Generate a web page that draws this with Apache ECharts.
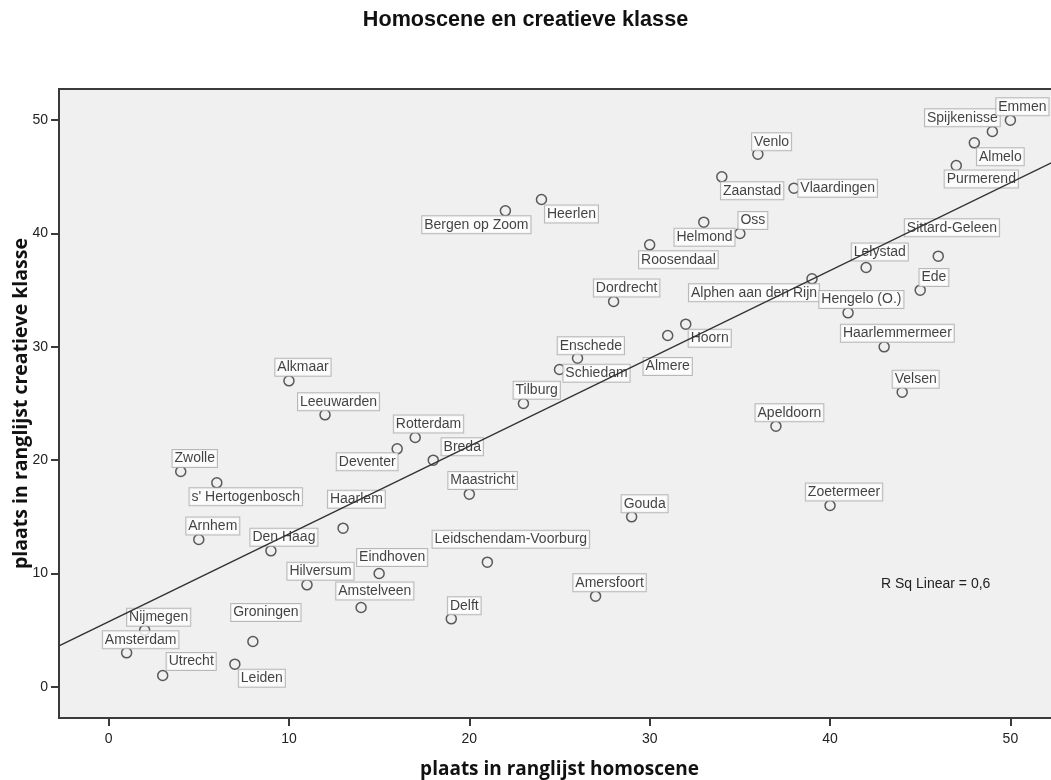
<!DOCTYPE html>
<html>
<head>
<meta charset="utf-8">
<script src="https://cdn.jsdelivr.net/npm/echarts@6/dist/echarts.min.js"></script>
<style>
  html, body { margin: 0; padding: 0; background: #ffffff; }
  #chart { width: 1051px; height: 780px; }
</style>
</head>
<body>
<div id="chart"></div>
<script>
// Gemeenten met hun plaats in beide ranglijsten
const cities = [
  "Amsterdam", "Nijmegen", "Utrecht", "Zwolle", "Arnhem", "s' Hertogenbosch", "Leiden", "Groningen", "Den Haag", "Alkmaar",
  "Hilversum", "Leeuwarden", "Haarlem", "Amstelveen", "Eindhoven", "Deventer", "Rotterdam", "Breda", "Delft", "Maastricht",
  "Leidschendam-Voorburg", "Bergen op Zoom", "Tilburg", "Heerlen", "Schiedam", "Enschede", "Amersfoort", "Dordrecht", "Gouda", "Roosendaal",
  "Almere", "Hoorn", "Helmond", "Zaanstad", "Oss", "Venlo", "Apeldoorn", "Vlaardingen", "Alphen aan den Rijn", "Zoetermeer",
  "Hengelo (O.)", "Lelystad", "Haarlemmermeer", "Velsen", "Ede", "Sittard-Geleen", "Purmerend", "Almelo", "Spijkenisse", "Emmen"
];
const homoscene = [
  1, 2, 3, 4, 5, 6, 7, 8, 9, 10,
  11, 12, 13, 14, 15, 16, 17, 18, 19, 20,
  21, 22, 23, 24, 25, 26, 27, 28, 29, 30,
  31, 32, 33, 34, 35, 36, 37, 38, 39, 40,
  41, 42, 43, 44, 45, 46, 47, 48, 49, 50
];
const creatief = [
  3, 5, 1, 19, 13, 18, 2, 4, 12, 27,
  9, 24, 14, 7, 10, 21, 22, 20, 6, 17,
  11, 42, 25, 43, 28, 29, 8, 34, 15, 39,
  31, 32, 41, 45, 40, 47, 23, 44, 36, 16,
  33, 37, 30, 26, 35, 38, 46, 48, 49, 50
];
const tickValues = [0, 10, 20, 30, 40, 50];

// Where each label box sits relative to its point, in pixels
const labelOffset = {
  "Amsterdam": [14, -13], "Nijmegen": [14, -13], "Utrecht": [28.5, -14], "Leiden": [27, 14],
  "Groningen": [13, -29], "Zwolle": [14, -13], "s' Hertogenbosch": [29, 14], "Arnhem": [14, -13.5],
  "Den Haag": [13, -13.5], "Hilversum": [13.5, -13.5], "Haarlem": [13.3, -29], "Deventer": [-30, 13],
  "Amstelveen": [13.7, -16.5], "Eindhoven": [13, -16], "Leeuwarden": [13.5, -13], "Alkmaar": [14, -13.5],
  "Rotterdam": [13.3, -13.5], "Breda": [29, -13.5], "Maastricht": [13.3, -13.7], "Leidschendam-Voorburg": [23.5, -23],
  "Delft": [13, -13], "Amersfoort": [14, -13.4], "Gouda": [13, -13], "Tilburg": [13.3, -13.2],
  "Bergen op Zoom": [-29, 14], "Heerlen": [30, 14.5], "Roosendaal": [28.7, 15], "Helmond": [0.7, 15],
  "Dordrecht": [13, -13.4], "Alphen aan den Rijn": [-58, 14], "Hoorn": [24, 14], "Almere": [0, 31],
  "Enschede": [13.3, -12.5], "Schiedam": [37, 3.7], "Venlo": [13.7, -12.3], "Zaanstad": [30.3, 14],
  "Vlaardingen": [43.7, 0], "Oss": [13, -13], "Lelystad": [13.7, -15.5], "Sittard-Geleen": [13.7, -28.5],
  "Ede": [13.7, -12.7], "Hengelo (O.)": [13.3, -13.3], "Haarlemmermeer": [13.2, -13.5], "Velsen": [13.5, -13],
  "Purmerend": [25, 13.5], "Almelo": [26, 14], "Spijkenisse": [-30, -13.7], "Emmen": [12, -13.5],
  "Apeldoorn": [13.5, -13.5], "Zoetermeer": [14, -13.5]
};

// Least-squares fit of creatief on homoscene
const n = homoscene.length;
const mx = homoscene.reduce((s, v) => s + v, 0) / n;
const my = creatief.reduce((s, v) => s + v, 0) / n;
let sxy = 0, sxx = 0, syy = 0;
for (let i = 0; i < n; i++) {
  sxy += (homoscene[i] - mx) * (creatief[i] - my);
  sxx += (homoscene[i] - mx) ** 2;
  syy += (creatief[i] - my) ** 2;
}
const slope = sxy / sxx;
const intercept = my - slope * mx;
const rSq = (sxy * sxy) / (sxx * syy);

const X_MIN = -2.75, X_MAX = 52.75;
const Y_MIN = -2.75, Y_MAX = 52.75;

const points = cities.map((name, i) => ({
  name: name,
  value: [homoscene[i], creatief[i]],
  label: { offset: labelOffset[name] || [14, -13] }
}));

const fitLine = [
  [X_MIN, intercept + slope * X_MIN],
  [X_MAX, intercept + slope * X_MAX]
];

const SANS = "'Liberation Sans', Arial, sans-serif";
const TITLE_FONT = "'Open Sans', 'Noto Sans', sans-serif";

const chart = echarts.init(document.getElementById('chart'), null, { renderer: 'canvas' });
chart.setOption({
  animation: false,
  backgroundColor: '#ffffff',
  title: {
    text: 'Homoscene en creatieve klasse',
    left: 'center',
    top: 4,
    textStyle: { fontFamily: SANS, fontSize: 21.6, fontWeight: 'bold', color: '#111' }
  },
  grid: {
    show: true,
    outerBoundsMode: 'none',
    containLabel: false,
    left: 59,
    top: 89,
    width: 1001,
    height: 629,
    backgroundColor: '#f0f0f0',
    borderColor: '#3a3a3a',
    borderWidth: 2
  },
  xAxis: {
    type: 'value',
    min: X_MIN,
    max: X_MAX,
    name: 'plaats in ranglijst homoscene',
    nameLocation: 'middle',
    nameGap: 42,
    nameMoveOverlap: false,
    nameTextStyle: { fontFamily: TITLE_FONT, fontSize: 19, fontWeight: 'bold', color: '#111' },
    axisLine: { show: false, onZero: false },
    axisTick: { show: true, length: 8, customValues: tickValues, lineStyle: { color: '#3a3a3a', width: 2 } },
    axisLabel: { customValues: tickValues, margin: 14, fontFamily: SANS, fontSize: 14, color: '#222' },
    splitLine: { show: false }
  },
  yAxis: {
    type: 'value',
    min: Y_MIN,
    max: Y_MAX,
    name: 'plaats in ranglijst creatieve klasse',
    nameLocation: 'middle',
    nameGap: 28,
    nameMoveOverlap: false,
    nameTextStyle: { fontFamily: TITLE_FONT, fontSize: 19.5, fontWeight: 'bold', color: '#111' },
    axisLine: { show: false, onZero: false },
    axisTick: { show: true, length: 8, customValues: tickValues, lineStyle: { color: '#3a3a3a', width: 2 } },
    axisLabel: { customValues: tickValues, margin: 11, fontFamily: SANS, fontSize: 14, color: '#222' },
    splitLine: { show: false }
  },
  graphic: [{
    type: 'text',
    left: 881,
    top: 577,
    style: {
      text: 'R Sq Linear = ' + rSq.toFixed(1).replace('.', ','),
      fontFamily: SANS,
      fontSize: 14,
      fill: '#222'
    }
  }],
  series: [
    {
      type: 'scatter',
      z: 2,
      data: points,
      symbol: 'circle',
      symbolSize: 10,
      itemStyle: { color: 'rgba(0,0,0,0)', borderColor: '#333', borderWidth: 1.5 },
      label: {
        show: true,
        position: 'inside',
        formatter: '{b}',
        fontFamily: SANS,
        fontSize: 14,
        lineHeight: 15,
        color: '#111',
        backgroundColor: '#ffffff',
        borderColor: '#aaaaaa',
        borderWidth: 1,
        padding: [1, 2, 1, 2]
      },
      emphasis: { disabled: true }
    },
    {
      type: 'line',
      z: 10,
      data: fitLine,
      symbol: 'none',
      silent: true,
      lineStyle: { color: '#333', width: 1.5 },
      emphasis: { disabled: true }
    }
  ]
});
</script>
</body>
</html>
